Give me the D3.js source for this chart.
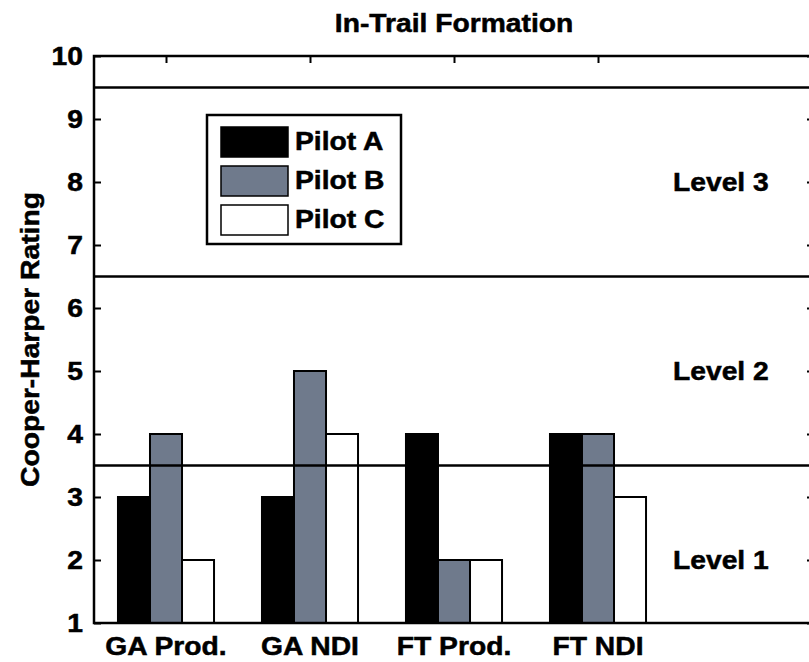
<!DOCTYPE html>
<html>
<head>
<meta charset="utf-8">
<script src="https://cdn.jsdelivr.net/npm/d3@7"></script>
<style>
  html, body { margin: 0; padding: 0; background: #fff; }
  svg { display: block; }
  text { font-family: "Liberation Sans", Arial, Helvetica, sans-serif; font-weight: bold; fill: #000; stroke: #000; stroke-width: 0.5px; }
</style>
</head>
<body>
<svg id="chart" width="809" height="662"></svg>
<script>
// Cooper-Harper ratings per configuration, one array per pilot
const categories = ["GA Prod.", "GA NDI", "FT Prod.", "FT NDI"];
const pilots = ["Pilot A", "Pilot B", "Pilot C"];
const pilotA = [3, 3, 4, 4];
const pilotB = [4, 5, 2, 4];
const pilotC = [2, 4, 2, 3];
const pilotColors = ["#000000", "#6f7a8c", "#ffffff"];
const yTicks = [1, 2, 3, 4, 5, 6, 7, 8, 9, 10];
// Handling-quality level boundaries and label rows
const levelBounds = [3.5, 6.5, 9.5];
const levelLabels = ["Level 1", "Level 2", "Level 3"];
const levelLabelY = [2, 5, 8];

const series = [pilotA, pilotB, pilotC];

const svg = d3.select("#chart");
const plotLeft = 94, plotRight = 814, plotTop = 56, plotBottom = 623;

const x = d3.scaleLinear().domain([0.5, 5.5]).range([plotLeft, plotRight]);
const y = d3.scaleLinear().domain([1, 10]).range([plotBottom, plotTop]);

const groupWidth = 0.667;
const barW = groupWidth / pilots.length;

// Bold labels rendered slightly wide, like the plotting package's Helvetica
const FONT = 25, WIDEN = 1.13;
function label(parent, tx, ty, str, anchor = "start", rotate = 0) {
  return parent.append("text")
    .attr("transform", `translate(${tx},${ty})${rotate ? ` rotate(${rotate})` : ""} scale(${WIDEN},1)`)
    .attr("text-anchor", anchor)
    .attr("font-size", FONT)
    .text(str);
}

// Axes box ticks (inward, on all four sides)
const tickLen = 7;
const axisG = svg.append("g");
axisG.append("g")
  .attr("transform", `translate(${plotLeft},0)`)
  .call(d3.axisRight(y).tickValues(yTicks).tickSize(tickLen).tickFormat(""))
  .call(g => g.select(".domain").remove());
axisG.append("g")
  .attr("transform", `translate(${plotRight},0)`)
  .call(d3.axisLeft(y).tickValues(yTicks).tickSize(tickLen).tickFormat(""))
  .call(g => g.select(".domain").remove());
axisG.append("g")
  .attr("transform", `translate(0,${plotTop})`)
  .call(d3.axisBottom(x).tickValues(d3.range(1, categories.length + 1)).tickSize(tickLen).tickFormat(""))
  .call(g => g.select(".domain").remove());
axisG.selectAll(".tick line").attr("stroke", "#000").attr("stroke-width", 2);

// Bars
series.forEach((vals, si) => {
  svg.append("g").selectAll("rect")
    .data(vals)
    .join("rect")
    .attr("x", (d, i) => x(i + 1 - groupWidth / 2 + si * barW))
    .attr("width", x(barW) - x(0))
    .attr("y", d => y(d))
    .attr("height", d => y(1) - y(d))
    .attr("fill", pilotColors[si])
    .attr("stroke", "#000")
    .attr("stroke-width", 2);
});

// Level boundary lines
svg.append("g").selectAll("line")
  .data(levelBounds)
  .join("line")
  .attr("x1", plotLeft).attr("x2", plotRight)
  .attr("y1", d => y(d)).attr("y2", d => y(d))
  .attr("stroke", "#000").attr("stroke-width", 2.5);

// Level labels
const levelG = svg.append("g");
levelLabels.forEach((t, i) => label(levelG, x(4.5) + 3, y(levelLabelY[i]) + 9, t));

// Axes frame
svg.append("rect")
  .attr("x", plotLeft).attr("y", plotTop)
  .attr("width", plotRight - plotLeft).attr("height", plotBottom - plotTop)
  .attr("fill", "none").attr("stroke", "#000").attr("stroke-width", 2.5);

// Y tick labels
const yLab = svg.append("g");
yTicks.forEach(v => label(yLab, plotLeft - 11, y(v) + 9, String(v), "end"));

// Category labels
const xLab = svg.append("g");
categories.forEach((c, i) => label(xLab, x(i + 1), 655, c, "middle"));

// Title
label(svg, (plotLeft + plotRight) / 2, 32, "In-Trail Formation", "middle");

// Y axis title
svg.append("text")
  .attr("transform", `translate(39,${(plotTop + plotBottom) / 2}) rotate(-90) scale(${WIDEN},1)`)
  .attr("text-anchor", "middle")
  .attr("font-size", FONT)
  .text("Cooper-Harper Rating");

// Legend
const legend = svg.append("g");
legend.append("rect")
  .attr("x", 207).attr("y", 115).attr("width", 194).attr("height", 129)
  .attr("fill", "#fff").attr("stroke", "#000").attr("stroke-width", 2.5);
const rowY = [127, 166, 205];
pilots.forEach((p, i) => {
  legend.append("rect")
    .attr("x", 221).attr("y", rowY[i]).attr("width", 67).attr("height", 30)
    .attr("fill", pilotColors[i]).attr("stroke", "#000").attr("stroke-width", 1.5);
  label(legend, 295, rowY[i] + 23, p);
});
</script>
</body>
</html>
